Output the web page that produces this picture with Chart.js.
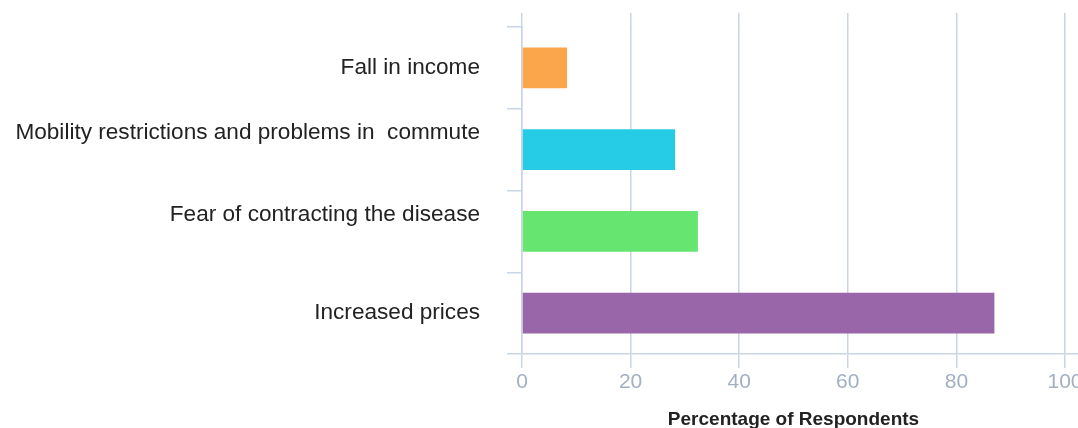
<!DOCTYPE html>
<html>
<head>
<meta charset="utf-8">
<script src="https://cdn.jsdelivr.net/npm/chart.js@4/dist/chart.umd.min.js"></script>
<style>
  html, body { margin: 0; padding: 0; background: #ffffff; overflow: hidden; }
  #wrap { width: 1100px; height: 428px; position: relative; }
</style>
</head>
<body>
<div id="wrap"><canvas id="c"></canvas></div>
<script>
const categories = [
  "Fall in income",
  "Mobility restrictions and problems in  commute",
  "Fear of contracting the disease",
  "Increased prices"
];
const values = [8.3, 28.2, 32.4, 87.0];
const barColors = ["#fba64a", "#26cbe5", "#66e571", "#9966aa"];
const xTicks = [0, 20, 40, 60, 80, 100];
const xTitle = "Percentage of Respondents";

const GRID = "#c9d5e4";
const LW = 1.5;
const LIFTED = new Set([1, 2]);

function align(chart, px, w) {
  const r = chart.currentDevicePixelRatio || 1;
  const h = w / 2;
  return Math.round((px - h) * r) / r + h;
}

const extendGrid = {
  id: "extendGrid",
  beforeDatasetsDraw(chart) {
    const { ctx, chartArea, scales } = chart;
    ctx.save();
    ctx.strokeStyle = GRID;
    ctx.lineWidth = LW;
    scales.x.ticks.forEach((t, i) => {
      const x = align(chart, scales.x.getPixelForTick(i), LW);
      ctx.beginPath();
      ctx.moveTo(x, 13);
      ctx.lineTo(x, chartArea.top + 1);
      ctx.stroke();
    });
    const yb = align(chart, chartArea.bottom, LW);
    ctx.beginPath();
    ctx.moveTo(chartArea.right, yb);
    ctx.lineTo(chart.width, yb);
    ctx.stroke();
    ctx.restore();
  }
};

new Chart(document.getElementById("c"), {
  type: "bar",
  data: {
    labels: categories,
    datasets: [{
      data: values,
      backgroundColor: barColors,
      borderWidth: 0,
      barPercentage: 0.5,
      categoryPercentage: 1.0
    }]
  },
  plugins: [extendGrid],
  options: {
    indexAxis: "y",
    responsive: true,
    maintainAspectRatio: false,
    animation: false,
    layout: { padding: { top: 27, right: 35, left: 0, bottom: 0 } },
    plugins: { legend: { display: false }, tooltip: { enabled: false } },
    scales: {
      x: {
        min: 0, max: 100,
        afterBuildTicks(s) { s.ticks = xTicks.map(v => ({ value: v })); },
        afterFit(s) { s.height = 74; s.paddingRight = 0; s.paddingLeft = 0; },
        grid: { color: GRID, lineWidth: LW, tickLength: 14, drawOnChartArea: true },
        border: { color: GRID, width: LW },
        ticks: {
          color: "#a3b0c2",
          font: { family: "Liberation Sans, Arial, sans-serif", size: 21 },
          padding: 2,
          maxRotation: 0
        },
        title: {
          display: true,
          text: xTitle,
          color: "#222222",
          font: { family: "Liberation Sans, Arial, sans-serif", size: 19, weight: "bold" },
          padding: { top: 0, bottom: -3 }
        }
      },
      y: {
        afterFit(s) { s.width = 522; s.paddingTop = 0; s.paddingBottom = 0; },
        grid: { color: GRID, lineWidth: LW, tickLength: 15, drawOnChartArea: false, offset: true },
        border: { color: GRID, width: LW },
        ticks: {
          color: "#222222",
          font: { family: "Liberation Sans, Arial, sans-serif", size: 22.6, lineHeight: 1.5 },
          padding: 27,
          callback(v, i) {
            const lab = this.getLabelForValue(v);
            return LIFTED.has(i) ? [lab, ""] : lab;
          }
        }
      }
    }
  }
});
</script>
</body>
</html>
